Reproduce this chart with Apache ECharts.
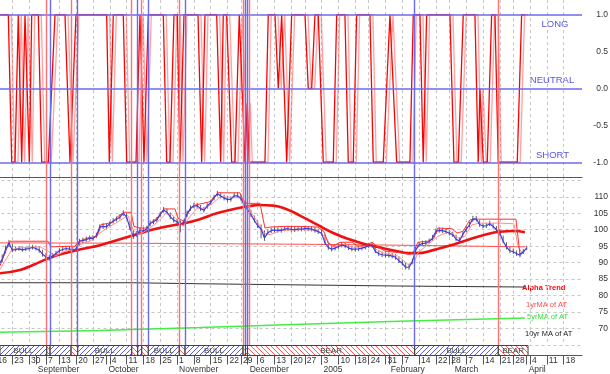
<!DOCTYPE html>
<html><head><meta charset="utf-8">
<script src="https://cdn.jsdelivr.net/npm/echarts@6/dist/echarts.min.js"></script>
<style>html,body{margin:0;padding:0;background:#fff}#c{width:610px;height:374px}</style>
</head><body><div id="c"></div>
<script>
// ---- axis / calendar (trading-day index: 0 = 16 Aug 2004) ----
const weekStarts = [0,5,10,15,19,24,29,34,39,44,49,54,59,64,69,73,78,83,88,92,97,102,107,111,116,121,126,131,135,140,145,150,154,159,164,169];
const weekLabels = ['16','23','30','7','13','20','27','4','11','18','25','1','8','15','22','29','6','13','20','27','3','10','18','24','31','7','14','22','28','7','14','21','28','4','11','18'];
const monthStarts = [12,33,54,75,97,117,136,158];
const monthLabels = ['September','October','November','December','2005','February','March','April'];
const topLabelValues = [-1,-0.5,0,0.5,1];
const topTickValues = [-1.125,-1,-0.875,-0.75,-0.625,-0.5,-0.375,-0.25,-0.125,0,0.125,0.25,0.375,0.5,0.625,0.75,0.875,1,1.125];
const signalLevels = [1,0,-1];
const levelNames = ['LONG','NEUTRAL','SHORT'];

// ---- signal (top panel) [day, value] ----
const signal = [[1.34,1],[3.81,1],[4.82,-1],[5.80,-1],[6.78,1],[7.29,1],[7.79,-1],[8.78,1],[9.28,1],[10.06,-1],[10.77,1],[12.73,1],[13.74,-1],[15.71,-1],[17.70,1],[20.67,1],[22.16,-1],[22.66,-1],[23.94,1],[33.07,1],[33.85,-1],[35.04,1],[38.01,1],[39.02,-1],[41.79,-1],[42.98,1],[43.48,1],[44.17,-1],[45.45,1],[49.91,1],[50.92,-1],[51.90,-1],[53.09,1],[54.07,1],[54.87,-1],[56.06,1],[60.23,1],[61.33,-1],[62.31,1],[65.79,1],[66.98,-1],[67.75,1],[68.76,1],[70.25,-1],[71.23,-1],[72.51,1],[72.93,1],[74.20,-1],[74.89,-0.2],[75.48,-1],[80.15,-1],[81.13,1],[83.13,1],[84.11,0],[85.12,1],[86.61,-1],[88.09,1],[92.05,1],[93.03,0],[94.04,0],[95.02,1],[96.00,1],[97.49,-1],[100.47,-1],[101.48,1],[103.94,1],[104.93,-1],[106.41,-1],[107.42,1],[111.38,1],[112.36,-1],[115.33,-1],[117.33,1],[117.83,1],[119.32,-1],[123.27,-1],[124.26,1],[126.25,1],[127.23,-1],[128.24,1],[135.17,1],[136.36,-1],[137.64,-1],[139.13,1],[142.61,1],[143.59,-1],[144.09,0],[145.08,-1],[146.27,-1],[147.57,1],[148.56,1],[149.54,-1],[155.19,-1],[156.49,1],[157.48,1]];

// ---- bull / bear change lines and bands ----
const changeDays = [15.23,16.21,22.46,24.45,40.51,42.29,43.48,45.45,54.66,56.36,73.61,74.35,74.95,75.54,124.67,149.54];
const changeTypes = ['bear','bull','bear','bull','bear','bull','bear','bull','bear','bull','bear','bull','bull','bear','bull','bear'];
const bandStarts = [1.34,15.23,16.21,22.46,24.45,40.51,42.29,43.48,45.45,54.66,56.36,73.61,74.35,74.95,124.67,149.54];
const bandEnds   = [15.23,16.21,22.46,24.45,40.51,42.29,43.48,45.45,54.66,56.36,73.61,74.35,74.95,124.67,149.54,158.4];
const bandTypes  = ['BULL','BEAR','BULL','BEAR','BULL','BEAR','BULL','BEAR','BULL','BEAR','BULL','BEAR','BULL','BEAR','BULL','BEAR'];

// ---- price panel: daily values from day 1 ----
const closes = [89.5,91.0,94.0,96.0,93.8,94.0,94.2,93.9,94.1,94.3,94.6,94.3,93.8,92.6,91.7,91.3,92.0,92.8,93.6,94.0,94.3,94.1,93.8,94.2,96.5,96.7,97.0,97.4,97.3,98.2,100.8,101.0,100.9,101.8,102.6,103.2,103.8,105.0,103.8,100.5,97.9,98.7,99.9,99.6,100.3,101.9,102.4,103.0,104.6,106.0,105.3,103.9,102.9,102.4,101.6,102.2,104.9,106.5,107.2,107.3,106.4,105.9,107.2,108.2,109.7,110.9,110.2,109.6,109.2,109.2,110.3,110.3,109.5,107.4,106.1,104.5,102.8,101.2,100.2,97.5,99.1,99.7,99.9,99.8,99.8,100.2,100.3,100.1,100.0,100.2,100.2,100.3,100.3,100.2,99.8,99.4,98.9,96.0,94.6,94.1,94.4,94.9,95.3,95.1,94.5,94.1,94.1,94.2,94.4,94.7,95.1,95.3,93.4,92.7,92.4,92.3,92.2,92.0,91.6,90.6,89.8,88.6,88.6,90.3,93.9,95.4,95.8,95.9,96.4,97.4,99.5,99.8,99.7,99.4,98.9,98.5,97.1,96.6,98.6,100.1,101.5,103.3,103.2,101.6,101.1,101.2,101.8,101.0,100.0,98.9,96.5,94.7,93.6,93.3,92.7,92.3,93.3,94.5];
const highs = [90.6,92.5,95.2,96.9,95.6,94.8,95.0,94.9,94.8,95.1,95.4,95.2,94.9,93.9,92.9,92.4,92.9,93.6,94.4,94.9,95.1,95.0,94.8,95.0,97.2,97.6,97.9,98.2,98.3,99.1,101.6,102.0,101.9,102.6,103.5,104.0,104.7,105.9,105.0,102.6,99.9,99.6,100.8,100.6,101.2,102.8,103.2,103.9,105.5,106.9,106.4,105.2,104.0,103.4,102.8,103.1,105.8,107.4,108.1,108.2,107.5,106.9,108.0,109.1,110.6,111.8,111.3,110.6,110.2,110.1,111.2,111.3,110.7,108.9,107.4,106.0,104.3,102.7,101.6,99.8,100.0,100.6,100.8,100.7,100.6,101.1,101.2,101.0,100.9,101.0,101.1,101.2,101.1,101.0,100.7,100.3,99.9,98.6,96.1,95.1,95.2,95.8,96.2,96.1,95.5,95.0,95.0,95.1,95.3,95.6,96.0,96.3,95.2,93.7,93.3,93.2,93.1,92.9,92.6,91.9,91.0,89.9,89.6,91.2,94.8,96.3,96.7,96.8,97.3,98.4,100.4,100.7,100.6,100.3,99.9,99.4,98.5,97.6,99.5,101.0,102.4,104.2,104.2,102.9,102.0,102.1,102.7,102.0,101.1,100.2,98.2,96.2,94.8,94.3,93.7,93.3,94.1,95.1];
const lows = [88.9,90.2,92.8,94.8,93.2,93.4,93.6,93.3,93.5,93.7,94.0,93.7,93.0,91.8,90.9,90.6,91.3,92.1,92.9,93.4,93.6,93.4,93.1,93.5,95.1,95.9,96.2,96.7,96.6,97.5,99.5,100.2,100.1,101.0,101.9,102.5,103.1,104.2,103.2,100.0,97.2,97.8,99.0,98.9,99.5,101.0,101.7,102.3,103.8,105.2,104.6,103.2,102.2,101.7,99.2,101.1,103.9,105.7,106.5,106.6,105.7,105.2,106.4,107.5,108.9,110.1,109.5,108.9,108.5,108.5,109.6,109.6,108.8,106.9,105.5,103.9,102.2,100.5,97.4,96.6,98.4,99.0,99.2,99.1,99.1,99.5,99.6,99.4,99.3,99.5,99.5,99.6,99.6,99.5,99.1,98.7,98.2,95.7,93.9,93.4,93.7,94.2,94.6,94.4,93.8,93.4,93.4,93.5,93.7,94.0,94.4,94.6,92.9,92.0,91.7,91.6,91.5,91.3,90.9,89.9,89.1,87.9,87.8,89.5,92.6,94.7,95.1,95.2,95.7,96.6,98.7,99.1,99.0,98.7,98.2,97.8,96.5,95.8,97.6,99.3,100.7,102.4,102.5,100.9,100.4,100.5,101.1,100.3,99.3,98.2,95.9,94.0,92.9,92.6,92.0,91.6,92.6,93.8];

// short-term channel lines [day, value]
const fastUpper = [[1.34,89],[2.83,93],[4.31,96.5],[15.62,96.5],[16.51,94.8],[23.65,95],[24.84,96.5],[27.51,97.5],[30.19,98],[31.38,101.5],[34.65,102.2],[36.43,104],[38.22,105.3],[40.30,105.3],[41.19,101],[42.98,100.5],[45.06,100.5],[46.55,102.5],[48.03,103.5],[50.11,106.3],[53.39,106.3],[54.28,103.5],[56.06,102.5],[57.25,105],[58.74,107.3],[60.82,107.8],[63.79,108.5],[66.17,111.2],[72.72,111.2],[73.91,108],[78.67,108],[80.15,100.5],[81.64,100.8],[85.51,101],[90.56,101],[95.91,100.8],[97.70,99.5],[98.89,96],[100.37,95],[102.46,96.2],[106.02,96.2],[107.81,95],[110.49,95.3],[111.97,96.2],[113.46,95],[115.84,93.5],[120.30,93],[123.27,92.5],[124.46,93.5],[125.65,96.2],[128.63,96.5],[130.41,97.5],[131.60,100.5],[135.77,100.3],[137.26,99],[139.04,99.5],[141.12,103],[142.61,103.2],[154.80,103.2],[155.99,92.5],[157.48,93.8]];
const fastLower = [[1.34,88],[3.13,91],[4.91,94],[7.29,94.5],[13.24,94.8],[15.62,93.5],[17.70,92],[20.67,93.5],[23.65,94],[25.13,95.5],[28.11,96.5],[31.08,99],[34.05,101],[37.03,102.8],[39.41,104.3],[40.90,100],[42.38,98.5],[44.46,99.5],[46.55,101],[48.92,103],[50.71,105],[52.49,104.5],[54.28,102.8],[55.76,101],[57.85,104],[59.93,106.5],[62.31,106.5],[64.69,108],[66.77,110],[70.34,109.8],[72.72,109.7],[74.50,108.5],[76.28,105],[78.07,102],[79.86,99],[81.64,98.5],[84.61,99.7],[90.56,100],[95.91,99.8],[98.29,97.5],[100.08,94.8],[103.94,95.3],[106.92,94.6],[111.38,95],[113.16,94],[115.84,92.8],[119.71,92],[122.68,89.5],[124.46,90],[125.65,93],[128.63,95.5],[131.60,98],[135.17,99.5],[137.55,97.5],[139.63,98],[141.72,101.5],[144.09,102],[150.04,102],[154.20,101.8],[155.39,95],[156.59,93],[157.48,93.5]];
const alphaTrend = [[1.34,86.8],[7.29,87.8],[11.16,89.3],[16.21,91.5],[21.18,93],[26.11,94.2],[31.08,95.3],[36.05,96.8],[40.98,98.3],[45.95,99.8],[50.92,101],[55.85,101.9],[60.82,103.2],[65.79,105],[70.72,106.2],[75.69,107.2],[78.67,107.5],[82.62,107.3],[86.61,106.2],[90.56,104.3],[95.53,101.6],[100.47,99],[105.43,97],[110.40,95.5],[115.33,94.4],[120.30,93.3],[123.27,92.9],[125.27,92.9],[130.20,93.8],[135.17,95.2],[140.14,96.8],[145.07,98.3],[150.04,99.4],[154.0,99.6],[157.48,99.2]];
const ma1yr = [[1.34,96.0],[40.5,95.9],[41.0,95.6],[90,95.6],[120,95.3],[157.48,94.8]];
const ma5yr = [[1.34,68.9],[31,69.4],[61,70.3],[91,71.3],[120,72.2],[157.48,73.2]];
const ma10yr = [[1.34,83.9],[40.5,83.9],[41.0,83.6],[60,83.6],[120,82.9],[157.48,82.6]];
const legendTexts = ['Alpha Trend','1yrMA of AT','5yrMA of AT','10yr MA of AT'];

// ---------------------------------------------------------------
const FONT = "'Liberation Sans', Arial, sans-serif";
const X_MAX = 174.45;
const GL = -4.51, GW = 586.51;
const BLUE_LINE = '#6a6af0', RED_LINE = '#ff7070';

function hatch(color, up) {
  const c = document.createElement('canvas'); c.width = 5; c.height = 5;
  const g = c.getContext('2d'); g.strokeStyle = color; g.lineWidth = 1;
  g.beginPath();
  if (up) { g.moveTo(-1,6); g.lineTo(6,-1); g.moveTo(-1,1); g.lineTo(1,-1); g.moveTo(4,6); g.lineTo(6,4); }
  else { g.moveTo(-1,-1); g.lineTo(6,6); g.moveTo(4,-1); g.lineTo(6,1); g.moveTo(-1,4); g.lineTo(1,6); }
  g.stroke(); return c;
}
const bullPat = hatch('#5b5be8', true), bearPat = hatch('#ff5a5a', false);

const weekMap = {}; weekStarts.forEach((d,i)=>weekMap[d]=weekLabels[i]);
const monthMap = {}; monthStarts.forEach((d,i)=>monthMap[d]=monthLabels[i]);
const vLines = changeDays.map((d,i)=>({xAxis:d, lineStyle:{color: changeTypes[i]==='bull'?BLUE_LINE:RED_LINE, width:1.4, type:'solid'}}));
const dash = {show:true, lineStyle:{color:'#c6c6c6', type:[3,3], width:1}};

const chart = echarts.init(document.getElementById('c'));
chart.setOption({
  animation:false,
  backgroundColor:'#fff',
  textStyle:{fontFamily:FONT},
  grid:[
    {left:GL, width:GW, top:0, height:177, containLabel:false, outerBoundsMode:'none'},
    {left:GL, width:GW, top:177, height:168, containLabel:false, outerBoundsMode:'none'},
    {left:GL, width:GW, top:345.5, height:10, containLabel:false, outerBoundsMode:'none'}
  ],
  xAxis:[
    {gridIndex:0, type:'value', min:0, max:X_MAX, axisLine:{show:true, onZero:false, lineStyle:{color:'#555'}},
     axisTick:{show:false, customValues:weekStarts}, axisLabel:{show:false}, splitLine:dash},
    {gridIndex:1, type:'value', min:0, max:X_MAX, axisLine:{show:false},
     axisTick:{show:false, customValues:weekStarts}, axisLabel:{show:false}, splitLine:dash},
    {gridIndex:2, type:'value', min:0, max:X_MAX, position:'bottom', axisLine:{show:true, onZero:false, lineStyle:{color:'#555'}},
     axisTick:{show:true, length:9, customValues:weekStarts, lineStyle:{color:'#555'}},
     axisLabel:{show:true, customValues:weekStarts, formatter:v=>weekMap[v]||'', align:'left', padding:[0,0,0,2], margin:1, fontSize:8.5, color:'#333', fontFamily:FONT},
     splitLine:{show:false}},
    {gridIndex:2, type:'value', min:0, max:X_MAX, position:'bottom', offset:9, axisLine:{show:false},
     axisTick:{show:true, length:9, customValues:monthStarts, lineStyle:{color:'#555'}},
     axisLabel:{show:true, customValues:monthStarts, formatter:v=>monthMap[v]||'', align:'left', padding:[0,0,0,2], margin:1, fontSize:8.5, color:'#333', fontFamily:FONT},
     splitLine:{show:false}}
  ],
  yAxis:[
    {gridIndex:0, type:'value', position:'right', min:-1.2, max:1.2,
     axisLine:{show:true, lineStyle:{color:'#555'}},
     axisTick:{show:true, length:3, customValues:topTickValues, lineStyle:{color:'#555'}},
     axisLabel:{customValues:topLabelValues, formatter:v=>Number(v).toFixed(1), align:'right', margin:26, fontSize:8.5, color:'#333', fontFamily:FONT},
     splitLine:{show:false}},
    {gridIndex:1, type:'value', position:'right', min:65, max:116, interval:5,
     axisLine:{show:true, lineStyle:{color:'#555'}},
     axisTick:{show:true, length:3, lineStyle:{color:'#555'}},
     minorTick:{show:true, splitNumber:2, length:2, lineStyle:{color:'#555'}},
     axisLabel:{formatter:v=>(v>=70&&v<=110)?String(v):'', align:'right', margin:26, fontSize:8.5, color:'#333', fontFamily:FONT},
     splitLine:dash},
    {gridIndex:2, type:'value', min:0, max:1, show:false}
  ],
  graphic:[
    {type:'text', x:555, y:24.5, style:{text:levelNames[0], fill:'#5555e6', font:'9.5px '+FONT, align:'center', verticalAlign:'middle'}},
    {type:'text', x:552, y:80.5, style:{text:levelNames[1], fill:'#5555e6', font:'9.5px '+FONT, align:'center', verticalAlign:'middle'}},
    {type:'text', x:552.5, y:155, style:{text:levelNames[2], fill:'#5555e6', font:'9.5px '+FONT, align:'center', verticalAlign:'middle'}},
    {type:'text', x:522, y:288, style:{text:legendTexts[0], fill:'#ff0000', font:'bold 7.5px '+FONT, align:'left', verticalAlign:'middle'}},
    {type:'text', x:526, y:305, style:{text:legendTexts[1], fill:'#ff4a4a', font:'7.5px '+FONT, align:'left', verticalAlign:'middle'}},
    {type:'text', x:527, y:317, style:{text:legendTexts[2], fill:'#33dd33', font:'7.5px '+FONT, align:'left', verticalAlign:'middle'}},
    {type:'text', x:525, y:334, style:{text:legendTexts[3], fill:'#222', font:'7.5px '+FONT, align:'left', verticalAlign:'middle'}}
  ],
  series:[
    {type:'line', xAxisIndex:0, yAxisIndex:0, data:signal, symbol:'none',
     lineStyle:{color:'#ff0000', width:1.3, shadowColor:'rgba(255,70,70,0.5)', shadowBlur:0, shadowOffsetX:3},
     markLine:{silent:true, symbol:['none','none'], label:{show:false},
       data: signalLevels.map(v=>({yAxis:v, lineStyle:{color:BLUE_LINE, width:1.5, type:'solid'}})).concat(vLines)}},
    {type:'line', xAxisIndex:1, yAxisIndex:1, data:ma5yr, symbol:'none', lineStyle:{color:'#44ee44', width:1.5},
     markLine:{silent:true, symbol:['none','none'], label:{show:false}, data:vLines}},
    {type:'line', xAxisIndex:1, yAxisIndex:1, data:ma10yr, symbol:'none', lineStyle:{color:'#333', width:1}},
    {type:'line', xAxisIndex:1, yAxisIndex:1, data:ma1yr, symbol:'none', lineStyle:{color:'#ff5050', width:1}},
    {type:'line', xAxisIndex:1, yAxisIndex:1, data:alphaTrend, symbol:'none', smooth:true, lineStyle:{color:'#ee1111', width:2.6}},
    {type:'line', xAxisIndex:1, yAxisIndex:1, data:fastLower, symbol:'none', lineStyle:{color:'#ff9090', width:1}},
    {type:'line', xAxisIndex:1, yAxisIndex:1, data:fastUpper, symbol:'none', lineStyle:{color:'#ff3030', width:1}},
    {type:'line', xAxisIndex:1, yAxisIndex:1, data:closes.map((c,k)=>[k+1,c]), symbol:'none', lineStyle:{color:'#3c3ce6', width:1.2}},
    {type:'custom', xAxisIndex:1, yAxisIndex:1, clip:true,
     data: closes.map((c,k)=>[k+1, lows[k], highs[k]]), encode:{x:0, y:[1,2]},
     renderItem:(p,api)=>{const a=api.coord([api.value(0),api.value(1)]), b=api.coord([api.value(0),api.value(2)]);
       return {type:'line', shape:{x1:a[0],y1:a[1],x2:b[0],y2:b[1]}, style:{stroke:'#333', lineWidth:0.8}};}},
    {type:'custom', xAxisIndex:2, yAxisIndex:2, clip:false,
     data: bandStarts.map((s,k)=>[s, bandEnds[k], 0, 1]), encode:{x:[0,1], y:[2,3]},
     renderItem:(p,api)=>{
       const k=p.dataIndex; const p0=api.coord([api.value(0),1]), p1=api.coord([api.value(1),0]);
       const w=p1[0]-p0[0], h=p1[1]-p0[1]; const bull=bandTypes[k]==='BULL';
       const ch=[{type:'rect', shape:{x:p0[0], y:p0[1], width:w, height:h},
         style:{fill:{image: bull?bullPat:bearPat, repeat:'repeat'}, stroke:'#444', lineWidth:1}}];
       if (w>26) ch.push({type:'text', x:p0[0]+w/2, y:p0[1]+h/2+0.5,
         style:{text:bandTypes[k], fill:'#444', font:'8px '+FONT, align:'center', verticalAlign:'middle', textAlign:'center', textVerticalAlign:'middle'}});
       return {type:'group', children:ch};
     }}
  ]
});
</script></body></html>
